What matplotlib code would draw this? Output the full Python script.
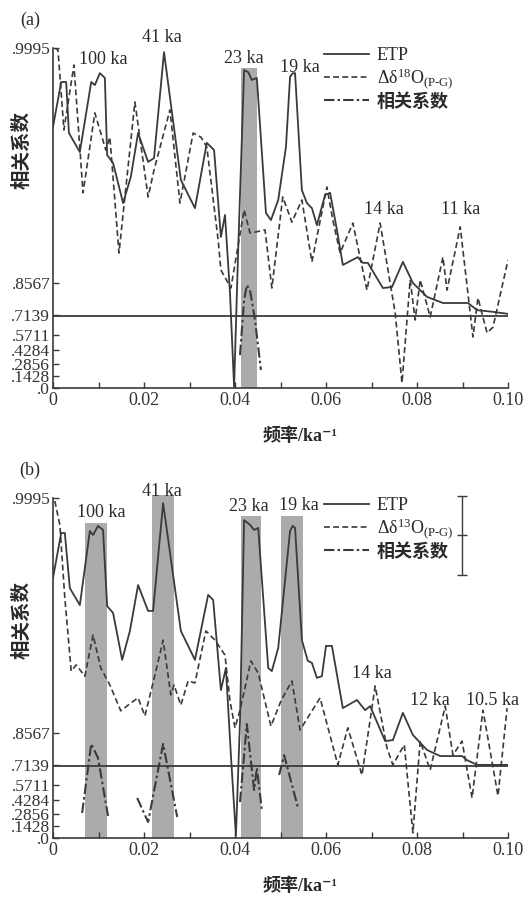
import numpy as np
import matplotlib
matplotlib.use('Agg')
import matplotlib.pyplot as plt
from matplotlib.lines import Line2D

plt.rcParams['font.family'] = ['Liberation Serif', 'Noto Sans CJK SC', 'DejaVu Sans']
plt.rcParams['mathtext.fontset'] = 'custom'
plt.rcParams['mathtext.rm'] = 'Liberation Serif'
plt.rcParams['mathtext.it'] = 'Liberation Serif:italic'

# ---------------- Panel (a) data ----------------
a_etp_f = [0.0000, 0.0018, 0.0029, 0.0035, 0.0059, 0.0084, 0.0092, 0.0103, 0.0114, 0.0119,
           0.0132, 0.0154, 0.0171, 0.0187, 0.0209, 0.0222, 0.0244, 0.0281, 0.0312, 0.0338,
           0.0354, 0.0369, 0.0378, 0.0389, 0.0398, 0.0407, 0.0420, 0.0429, 0.0437, 0.0448,
           0.0468, 0.0479, 0.0495, 0.0512, 0.0521, 0.0527, 0.0532, 0.0547, 0.0558, 0.0569,
           0.0580, 0.0598, 0.0609, 0.0624, 0.0637, 0.0670, 0.0681, 0.0692, 0.0725, 0.0745,
           0.0769, 0.0791, 0.0822, 0.0857, 0.0912, 0.0932, 0.0967, 0.1000]
a_etp_p = [0.768, 0.900, 0.900, 0.750, 0.694, 0.900, 0.891, 0.926, 0.912, 0.685,
           0.662, 0.544, 0.621, 0.750, 0.665, 0.676, 0.988, 0.612, 0.529, 0.721,
           0.700, 0.444, 0.509, 0.279, 0.003, 0.406, 0.935, 0.929, 0.906, 0.912,
           0.515, 0.494, 0.553, 0.709, 0.915, 0.926, 0.926, 0.582, 0.544, 0.529,
           0.479, 0.568, 0.574, 0.465, 0.362, 0.385, 0.368, 0.368, 0.294, 0.297,
           0.371, 0.309, 0.268, 0.250, 0.250, 0.229, 0.224, 0.218]

a_d18_f = [0.0004, 0.0011, 0.0024, 0.0046, 0.0066, 0.0092, 0.0116, 0.0125, 0.0145, 0.0180,
           0.0209, 0.0222, 0.0257, 0.0279, 0.0308, 0.0325, 0.0338, 0.0363, 0.0369, 0.0391,
           0.0420, 0.0433, 0.0446, 0.0466, 0.0481, 0.0505, 0.0525, 0.0547, 0.0569, 0.0602,
           0.0615, 0.0631, 0.0659, 0.0690, 0.0719, 0.0752, 0.0767, 0.0785, 0.0796, 0.0807,
           0.0829, 0.0857, 0.0866, 0.0895, 0.0923, 0.0934, 0.0954, 0.0967, 0.1000]
a_d18_p = [1.000, 0.994, 0.759, 0.950, 0.574, 0.809, 0.700, 0.738, 0.397, 0.841,
           0.562, 0.641, 0.818, 0.544, 0.750, 0.738, 0.709, 0.435, 0.347, 0.294,
           0.524, 0.456, 0.459, 0.465, 0.294, 0.562, 0.488, 0.553, 0.371, 0.591,
           0.494, 0.397, 0.485, 0.288, 0.485, 0.221, 0.015, 0.318, 0.200, 0.318,
           0.209, 0.385, 0.288, 0.474, 0.150, 0.265, 0.162, 0.179, 0.376]

a_coh_f = [0.0411, 0.0420, 0.0426, 0.0433, 0.0444, 0.0457]
a_coh_k = [0.382, 0.790, 0.850, 0.831, 0.680, 0.216]

a_bands = [(0.0413, 0.0448, 0.94)]

# ---------------- Panel (b) data ----------------
b_etp_f = [0.0000, 0.0018, 0.0026, 0.0037, 0.0059, 0.0081, 0.0088, 0.0099, 0.0110, 0.0119,
           0.0132, 0.0152, 0.0169, 0.0187, 0.0209, 0.0220, 0.0242, 0.0281, 0.0312, 0.0341,
           0.0352, 0.0369, 0.0380, 0.0391, 0.0402, 0.0411, 0.0420, 0.0433, 0.0442, 0.0451,
           0.0473, 0.0481, 0.0495, 0.0521, 0.0527, 0.0532, 0.0547, 0.0560, 0.0569, 0.0580,
           0.0591, 0.0600, 0.0613, 0.0637, 0.0668, 0.0686, 0.0697, 0.0730, 0.0747, 0.0769,
           0.0791, 0.0822, 0.0851, 0.0899, 0.0910, 0.0932, 0.1000]
b_etp_p = [0.765, 0.897, 0.897, 0.735, 0.685, 0.903, 0.891, 0.918, 0.906, 0.682,
           0.662, 0.524, 0.609, 0.744, 0.668, 0.668, 0.985, 0.609, 0.524, 0.715,
           0.700, 0.435, 0.500, 0.244, 0.006, 0.344, 0.935, 0.921, 0.906, 0.912,
           0.500, 0.491, 0.559, 0.903, 0.918, 0.912, 0.582, 0.521, 0.515, 0.471,
           0.476, 0.565, 0.565, 0.382, 0.406, 0.376, 0.388, 0.285, 0.288, 0.368,
           0.303, 0.259, 0.241, 0.241, 0.229, 0.215, 0.215]

b_d13_f = [0.0004, 0.0015, 0.0026, 0.0040, 0.0051, 0.0070, 0.0088, 0.0105, 0.0125, 0.0149,
           0.0171, 0.0187, 0.0202, 0.0224, 0.0242, 0.0259, 0.0266, 0.0281, 0.0297, 0.0312,
           0.0336, 0.0356, 0.0378, 0.0389, 0.0400, 0.0411, 0.0435, 0.0451, 0.0479, 0.0501,
           0.0525, 0.0543, 0.0587, 0.0626, 0.0648, 0.0679, 0.0708, 0.0734, 0.0747, 0.0772,
           0.0791, 0.0807, 0.0829, 0.0862, 0.0879, 0.0899, 0.0921, 0.0945, 0.0978, 0.0998]
b_d13_p = [0.991, 0.921, 0.706, 0.491, 0.509, 0.476, 0.597, 0.500, 0.450, 0.374,
           0.397, 0.412, 0.359, 0.479, 0.582, 0.421, 0.450, 0.391, 0.462, 0.456,
           0.609, 0.582, 0.538, 0.403, 0.324, 0.376, 0.521, 0.485, 0.329, 0.403,
           0.462, 0.318, 0.412, 0.215, 0.324, 0.185, 0.447, 0.265, 0.215, 0.274,
           0.015, 0.285, 0.200, 0.388, 0.244, 0.285, 0.118, 0.376, 0.124, 0.382]

b_coh_f = [0.0064, 0.0084, 0.0099, 0.0121, np.nan,
           0.0185, 0.0209, 0.0242, 0.0273, np.nan,
           0.0411, 0.0426, 0.0442, 0.0448, 0.0459, np.nan,
           0.0497, 0.0508, 0.0538]
b_coh_k = [0.296, 0.817, 0.751, 0.262, np.nan,
           0.453, 0.193, 0.817, 0.251, np.nan,
           0.413, 0.883, 0.527, 0.693, 0.329, np.nan,
           0.646, 0.766, 0.361]

b_bands = [(0.0070, 0.0119, 0.926), (0.0218, 0.0266, 1.008),
           (0.0413, 0.0457, 0.947), (0.0501, 0.0549, 0.947)]

conf_level = 0.705

ytick_vals = [0.0, 0.1428, 0.2856, 0.4284, 0.5711, 0.7139, 0.8567, 0.9995]
ytick_labels = ['.0', '.1428', '.2856', '.4284', '.5711', '.7139', '.8567', '.9995']
xtick_vals = [0.0, 0.02, 0.04, 0.06, 0.08, 0.10]
xtick_labels = ['0', '0.02', '0.04', '0.06', '0.08', '0.10']

a_peaks = [('100 ka', 0.0110, 0.965), ('41 ka', 0.0240, 1.030), ('23 ka', 0.0420, 0.970),
           ('19 ka', 0.0543, 0.944), ('14 ka', 0.0727, 0.524), ('11 ka', 0.0895, 0.524)]
b_peaks = [('100 ka', 0.0105, 0.956), ('41 ka', 0.0240, 1.018), ('23 ka', 0.0431, 0.976),
           ('19 ka', 0.0541, 0.979), ('14 ka', 0.0701, 0.485), ('12 ka', 0.0829, 0.403),
           ('10.5 ka', 0.0967, 0.403)]

LC = '#3a3a3a'
BAND = '#ababab'


def fwd(k):
    k = np.clip(np.asarray(k, dtype=float), 0.0, 0.99999)
    return np.arctanh(k)


def inv(z):
    return np.tanh(z)


fig = plt.figure(figsize=(5.24, 9.0), dpi=100)
fig.patch.set_facecolor('white')


def draw_panel(rect, etp_f, etp_p, d_f, d_p, coh_f, coh_k, bands, peaks, dlabel,
               panel_label, ylab_y, errbar=False):
    ax = fig.add_axes(rect)
    ax.set_yscale('function', functions=(fwd, inv))
    ax.set_xlim(0, 0.10)
    ax.set_ylim(0, 0.9995)
    for s in ['top', 'right']:
        ax.spines[s].set_visible(False)
    for s in ['left', 'bottom']:
        ax.spines[s].set_color(LC)
        ax.spines[s].set_linewidth(1.2)

    for (f0, f1, top) in bands:
        ax.axvspan(f0, f1, ymin=0, ymax=top, color=BAND, lw=0, zorder=0, clip_on=False)

    ax.axhline(conf_level, color=LC, lw=1.3, zorder=2)
    ax.plot(coh_f, coh_k, color=LC, lw=1.5, ls=(0, (5, 1.5, 1.2, 1.5)), zorder=3)

    ax.set_yticks(ytick_vals)
    ax.set_yticklabels(ytick_labels)
    ax.set_xticks(xtick_vals)
    ax.set_xticklabels(xtick_labels)
    ax.set_xticks(np.arange(0.01, 0.10, 0.02), minor=True)
    ax.tick_params(axis='both', which='both', direction='in', length=4, width=1.0,
                   colors=LC, labelsize=13, labelcolor='#333333')
    ax.tick_params(axis='y', labelsize=12.5, pad=2)
    ax.tick_params(axis='x', pad=3)
    ax.yaxis.set_minor_locator(matplotlib.ticker.NullLocator())

    ax2 = ax.twinx()
    ax2.set_ylim(0, 1)
    ax2.axis('off')
    l1, = ax2.plot(etp_f, etp_p, color=LC, lw=1.3, zorder=4)
    l2, = ax2.plot(d_f, d_p, color=LC, lw=1.2, ls=(0, (3.5, 2)), zorder=4)
    l3 = Line2D([], [], color=LC, lw=1.5, ls=(0, (5, 1.5, 1.2, 1.5)))

    for (txt, fx, py) in peaks:
        ax2.text(fx, py, txt, ha='center', va='center', fontsize=13, color='#2a2a2a')

    leg = ax2.legend([l1, l2, l3], ['ETP', dlabel, '相关系数'], loc='upper left',
                     bbox_to_anchor=(0.595, 1.002), frameon=False, fontsize=13,
                     handlelength=2.5, handletextpad=0.45, labelspacing=0.12,
                     borderpad=0, borderaxespad=0)
    for t in leg.get_texts():
        t.set_color('#2a2a2a')
    leg.get_texts()[2].set_fontweight('bold')

    ax.text(-0.068, ylab_y, '相关系数', transform=ax.transAxes, rotation=90,
            ha='center', va='center', fontsize=14, fontweight='bold', color='#2a2a2a')
    ax.text(0.543, -0.141, '频率/ka⁻¹', transform=ax.transAxes, ha='center',
            va='center', fontsize=13, fontweight='bold', color='#2a2a2a')
    ax.text(-0.05, 1.08, panel_label, transform=ax.transAxes, ha='center',
            va='center', fontsize=13, color='#2a2a2a')

    if errbar:
        ax.errorbar([0.899], [0.89], yerr=[0.116], fmt='_', color=LC, ms=7, mew=1.0,
                    capsize=3.5, elinewidth=1.0, transform=ax.transAxes, clip_on=False)
    return ax


draw_panel([53 / 524, 1 - 388 / 900, 455 / 524, 340 / 900],
           a_etp_f, a_etp_p, a_d18_f, a_d18_p, a_coh_f, a_coh_k, a_bands, a_peaks,
           r'Δδ$^{18}$O$_{\mathrm{(P\text{-}G)}}$', '(a)', 0.70)
draw_panel([53 / 524, 1 - 838 / 900, 455 / 524, 340 / 900],
           b_etp_f, b_etp_p, b_d13_f, b_d13_p, b_coh_f, b_coh_k, b_bands, b_peaks,
           r'Δδ$^{13}$O$_{\mathrm{(P\text{-}G)}}$', '(b)', 0.64, errbar=True)

fig.savefig('out.png', dpi=100, facecolor='white')
